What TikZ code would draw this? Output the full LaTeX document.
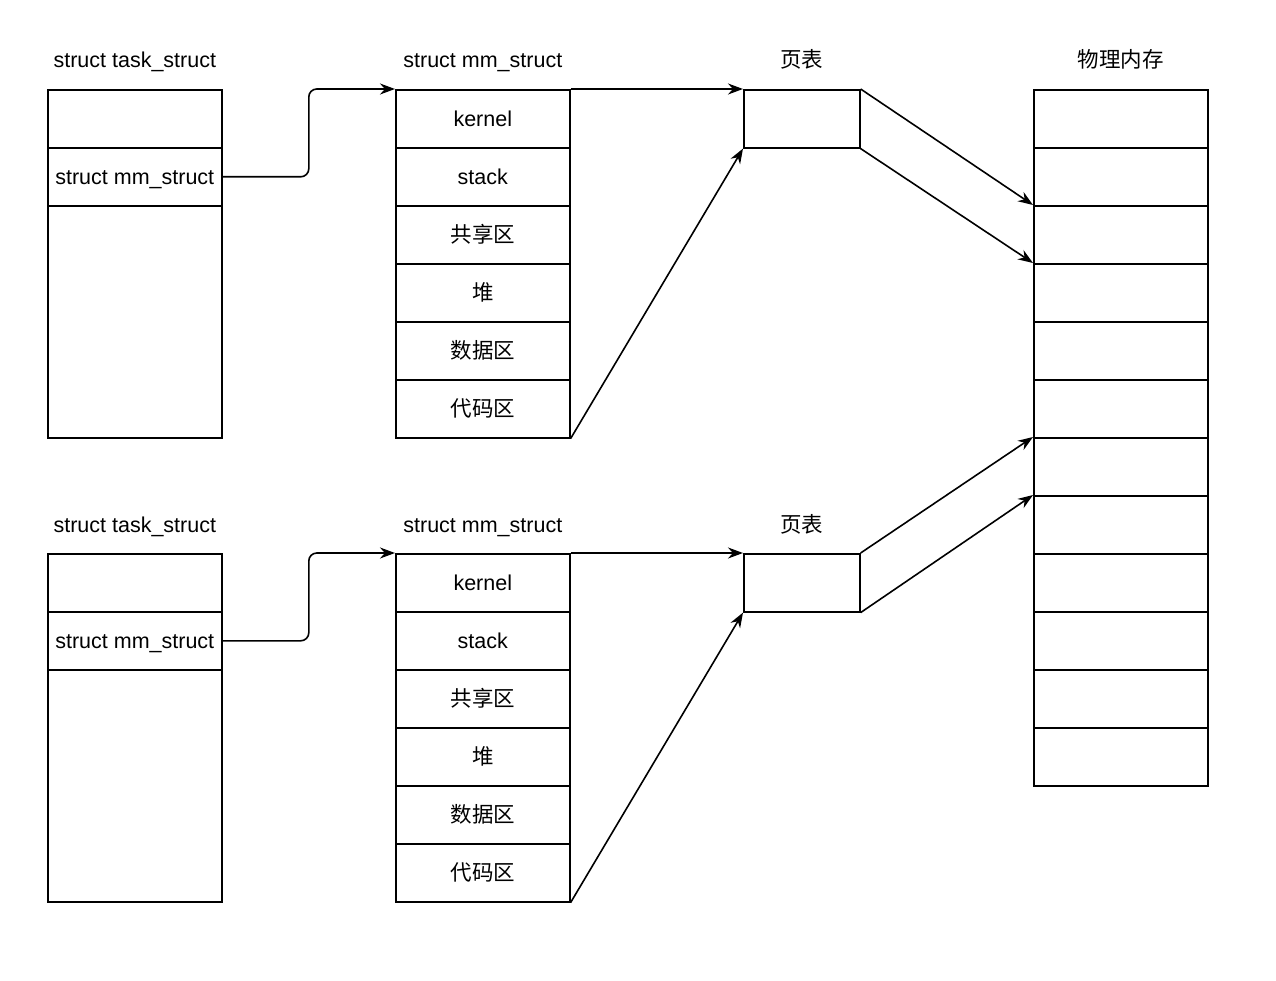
\documentclass[tikz,border=0pt]{standalone}
\usepackage{fontspec}
\setmainfont{Liberation Sans}
\newfontfamily\cjk{Noto Sans CJK SC}
\usetikzlibrary{positioning,calc,arrows.meta}

\tikzset{
  cell/.style={draw, line width=1.6pt, minimum width=174pt, minimum height=58pt,
    inner sep=0pt, anchor=north west, text height=16pt, text depth=0pt,
    font=\fontsize{21.5}{26}\selectfont},
  title/.style={text height=20pt, text depth=4pt, font=\fontsize{21.5}{26}\selectfont},
  link/.style={line width=1.6pt, -{Stealth[length=15pt, width=11pt]}}
}

\begin{document}
\begin{tikzpicture}[x=1pt, y=-1pt]
\useasboundingbox (0,0) rectangle (1276,981);

% two processes, the second one 464 lower
\foreach \g/\dy in {1/0, 2/464} {
  % task_struct
  \node[cell] (ta\g) at (47,89+\dy) {};
  \node[cell] (tb\g) at (47,147+\dy) {struct mm\_struct};
  \node[cell, minimum height=232pt] (tc\g) at (47,205+\dy) {};
  \node[title] at ([yshift=29pt]ta\g.north) {struct task\_struct};

  % mm_struct
  \foreach \txt [count=\i] in {kernel, stack, {\cjk 共享区}, {\cjk 堆}, {\cjk 数据区}, {\cjk 代码区}}
    \node[cell] (m\i-\g) at (395,31+58*\i+\dy) {\txt};
  \node[title] at ([yshift=29pt]m1-\g.north) {struct mm\_struct};

  % page table
  \node[cell, minimum width=116pt] (pt\g) at (743,89+\dy) {};
  \node[title] at ([yshift=29pt]pt\g.north) {\cjk 页表};

  \draw[link, rounded corners=8pt] (tb\g.east) -| ($(tb\g.east)!0.5!(m1-\g.north west)$) |- (m1-\g.north west);
  \draw[link] (m1-\g.north east) -- (pt\g.north west);
  \draw[link] (m6-\g.south east) -- (pt\g.south west);
}

% physical memory
\foreach \i in {1,...,12}
  \node[cell] (pm\i) at (1033,31+58*\i) {};
\node[title] at ([yshift=29pt]pm1.north) {\cjk 物理内存};

\draw[link] (pt1.north east) -- (pm3.north west);
\draw[link] (pt1.south east) -- (pm4.north west);
\draw[link] (pt2.north east) -- (pm7.north west);
\draw[link] (pt2.south east) -- (pm8.north west);

\end{tikzpicture}
\end{document}
